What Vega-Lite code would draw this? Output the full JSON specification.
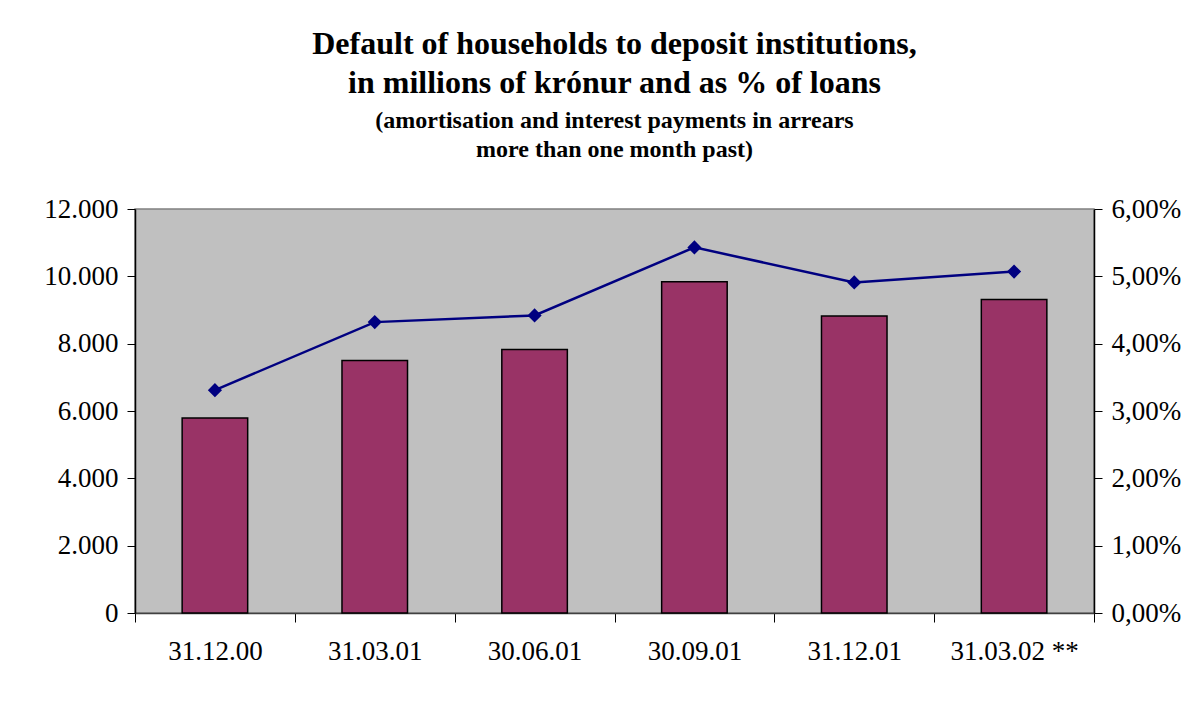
{
  "$schema": "https://vega.github.io/schema/vega-lite/v6.json",
  "width": 959,
  "height": 404,
  "autosize": {"type": "none"},
  "padding": {"left": 135, "top": 209, "right": 99, "bottom": 89},
  "background": "white",
  "title": {
    "text": ["Default of households to deposit institutions,", "in millions of krónur and as % of loans"],
    "subtitle": ["(amortisation and interest payments in arrears", "more than one month past)"],
    "font": "Liberation Serif",
    "fontSize": 32,
    "fontWeight": "bold",
    "lineHeight": 39,
    "color": "black",
    "subtitleFont": "Liberation Serif",
    "subtitleFontSize": 24,
    "subtitleFontWeight": "bold",
    "subtitleLineHeight": 29,
    "subtitleColor": "black",
    "subtitlePadding": 9,
    "anchor": "middle",
    "offset": 32
  },
  "data": {
    "values": [
      {"date": "31.12.00", "amount": 5790, "pct": 3.31},
      {"date": "31.03.01", "amount": 7500, "pct": 4.32},
      {"date": "30.06.01", "amount": 7830, "pct": 4.42},
      {"date": "30.09.01", "amount": 9840, "pct": 5.43},
      {"date": "31.12.01", "amount": 8820, "pct": 4.91},
      {"date": "31.03.02 **", "amount": 9310, "pct": 5.07}
    ]
  },
  "config": {
    "view": {"fill": "#C0C0C0", "stroke": "#808080", "strokeWidth": 1.5},
    "axis": {
      "labelFont": "Liberation Serif",
      "labelFontSize": 27,
      "labelColor": "black",
      "domainColor": "black",
      "domainWidth": 1.5,
      "tickColor": "black",
      "tickWidth": 1,
      "tickSize": 8,
      "grid": false,
      "title": null
    }
  },
  "layer": [
    {
      "mark": {"type": "bar", "fill": "#993366", "stroke": "black", "strokeWidth": 1.5, "width": {"band": 0.41}},
      "encoding": {
        "x": {
          "field": "date", "type": "ordinal", "sort": null,
          "scale": {"paddingInner": 0, "paddingOuter": 0},
          "axis": {"labelAngle": 0, "tickBand": "extent", "labelPadding": 16, "domainColor": "#404040", "tickSize": 9}
        },
        "y": {
          "field": "amount", "type": "quantitative",
          "scale": {"domain": [0, 12000], "nice": false},
          "axis": {"values": [0, 2000, 4000, 6000, 8000, 10000, 12000], "labelPadding": 9, "labelExpr": "replace(format(datum.value, ',d'), ',', '.')"}
        }
      }
    },
    {
      "mark": {"type": "line", "color": "#000080", "strokeWidth": 2.5, "point": {"shape": "diamond", "size": 200, "filled": true, "color": "#000080"}},
      "encoding": {
        "x": {"field": "date", "type": "ordinal", "sort": null},
        "y": {
          "field": "pct", "type": "quantitative",
          "scale": {"domain": [0, 6], "nice": false},
          "axis": {"orient": "right", "values": [0, 1, 2, 3, 4, 5, 6], "labelPadding": 9, "labelExpr": "replace(format(datum.value, '.2f'), '.', ',') + '%'"}
        }
      }
    }
  ],
  "resolve": {"scale": {"y": "independent"}}
}
